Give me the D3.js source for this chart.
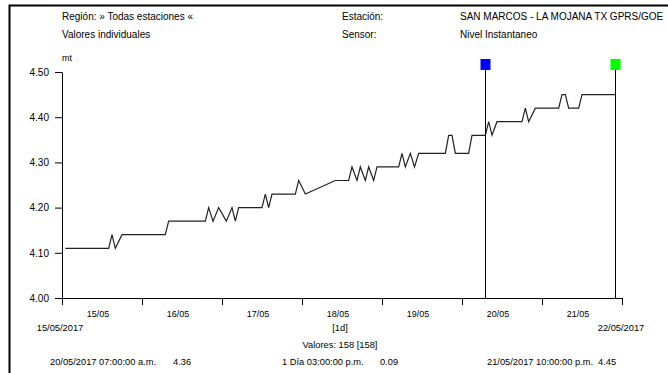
<!DOCTYPE html>
<html>
<head>
<meta charset="utf-8">
<script src="https://cdn.jsdelivr.net/npm/d3@7"></script>
<style>
  body { margin: 0; background: #fff; }
  text { font-family: "Liberation Sans", Arial, sans-serif; font-size: 10px; fill: #000; }
  .pie { font-size: 9.3px; }
</style>
</head>
<body>
<svg id="grafico" width="668" height="373"></svg>
<script>
// horas desde 15/05/2017 00:00 y nivel (mt), vertices
var horas = [1, 14, 15, 16, 18, 31, 32, 43, 44, 45.3, 47, 49.3, 51, 52, 53, 60, 61, 62, 63, 70,
    71, 73, 82, 86, 87, 88.5, 89.5, 91, 92, 93.5, 94.5, 101, 102, 103, 104.5, 105.75, 107, 115, 116, 117,
    118, 122, 123, 127, 128, 129, 130.5, 138, 139, 140, 142, 149, 150, 151, 152, 155, 156, 166];
var valores = [4.11, 4.11, 4.14, 4.11, 4.14, 4.14, 4.17, 4.17, 4.20, 4.17, 4.20, 4.17, 4.20, 4.17, 4.20, 4.20, 4.23, 4.20, 4.23, 4.23,
    4.26, 4.23, 4.26, 4.26, 4.29, 4.26, 4.29, 4.26, 4.29, 4.26, 4.29, 4.29, 4.32, 4.29, 4.32, 4.29, 4.32, 4.32, 4.36, 4.36,
    4.32, 4.32, 4.36, 4.36, 4.39, 4.36, 4.39, 4.39, 4.42, 4.39, 4.42, 4.42, 4.45, 4.45, 4.42, 4.42, 4.45, 4.45];

var dias = ["15/05", "16/05", "17/05", "18/05", "19/05", "20/05", "21/05"];
var yTicks = [4.00, 4.10, 4.20, 4.30, 4.40, 4.50];

var cursorHoras = [127, 166];
var cursorColores = ["#0000ff", "#00ff00"];

var cabecera = [
    ["Región: » Todas estaciones «", 62, 20],
    ["Valores individuales", 62, 38],
    ["Estación:", 342, 20],
    ["Sensor:", 342, 38],
    ["SAN MARCOS - LA MOJANA TX GPRS/GOE", 460, 20],
    ["Nivel Instantaneo", 460, 38]
];
var pie = [
    ["20/05/2017 07:00:00 a.m.", 50], ["4.36", 173],
    ["1 Día 03:00:00 p.m.", 282], ["0.09", 380],
    ["21/05/2017 10:00:00 p.m.", 487], ["4.45", 598]
];

(function() {

    var svg = d3.select("#grafico"),
        inicio = new Date(2017, 4, 15),
        fin = new Date(2017, 4, 22),
        x = d3.scaleTime().domain([inicio, fin]).range([62, 622]),
        y = d3.scaleLinear().domain([4.0, 4.5]).range([298, 72]);

    function fecha(h) { return new Date(inicio.getTime() + h * 3600e3); }

    // marco
    svg.append("rect").attr("width", 668).attr("height", 373).attr("fill", "#fff");
    svg.append("path")
        .attr("d", "M9.5,373V5.5H668")
        .attr("fill", "none").attr("stroke", "#000").attr("stroke-width", 2);

    cabecera.forEach(function(t) {
        svg.append("text").attr("x", t[1]).attr("y", t[2]).text(t[0]);
    });
    svg.append("text").attr("x", 62).attr("y", 61).style("font-size", "9px").text("mt");

    // ejes
    var ejeY = svg.append("g")
        .attr("transform", "translate(62,0)")
        .call(d3.axisLeft(y).tickValues(yTicks).tickFormat(d3.format(".2f")).tickSize(7).tickSizeOuter(0).tickPadding(6));

    var ejeX = svg.append("g")
        .attr("transform", "translate(0,298)")
        .call(d3.axisBottom(x).ticks(d3.timeDay.every(1)).tickFormat("").tickSize(7).tickSizeOuter(0));

    [ejeY, ejeX].forEach(function(g) {
        g.selectAll("path, line").attr("stroke", "#000");
        g.selectAll("text").attr("fill", "#000").style("font-size", "10px").style("font-family", null);
    });

    svg.selectAll(".dia")
        .data(dias)
        .enter().append("text")
        .attr("class", "dia")
        .attr("x", function(d, i) { return x(d3.timeHour.offset(inicio, i * 24 + 12)) - 4; })
        .attr("y", 317)
        .attr("text-anchor", "middle")
        .style("font-size", "9px")
        .text(function(d) { return d; });

    // serie
    var linea = d3.line()
        .x(function(d) { return x(fecha(d)); })
        .y(function(d, i) { return y(valores[i]); });

    svg.append("path")
        .datum(horas)
        .attr("d", linea)
        .attr("fill", "none")
        .attr("stroke", "#222")
        .attr("stroke-width", 1.2);

    // cursores
    cursorHoras.forEach(function(h, i) {
        var cx = Math.round(x(fecha(h))) + 0.5;
        svg.append("line")
            .attr("x1", cx).attr("x2", cx)
            .attr("y1", 70).attr("y2", 298)
            .attr("stroke", "#000");
        svg.append("rect")
            .attr("x", cx - 5).attr("y", 59)
            .attr("width", 10).attr("height", 11)
            .attr("fill", cursorColores[i]);
    });

    // pie
    svg.append("text").attr("class", "pie").attr("x", 60).attr("y", 331).attr("text-anchor", "middle").text("15/05/2017");
    svg.append("text").attr("class", "pie").attr("x", 621).attr("y", 331).attr("text-anchor", "middle").text("22/05/2017");
    svg.append("text").attr("class", "pie").attr("x", 340).attr("y", 331).attr("text-anchor", "middle").text("[1d]");
    svg.append("text").attr("class", "pie").attr("x", 340).attr("y", 348).attr("text-anchor", "middle").text("Valores: 158 [158]");
    pie.forEach(function(t) {
        svg.append("text").attr("class", "pie").attr("x", t[1]).attr("y", 365).text(t[0]);
    });
})();
</script>
</body>
</html>
